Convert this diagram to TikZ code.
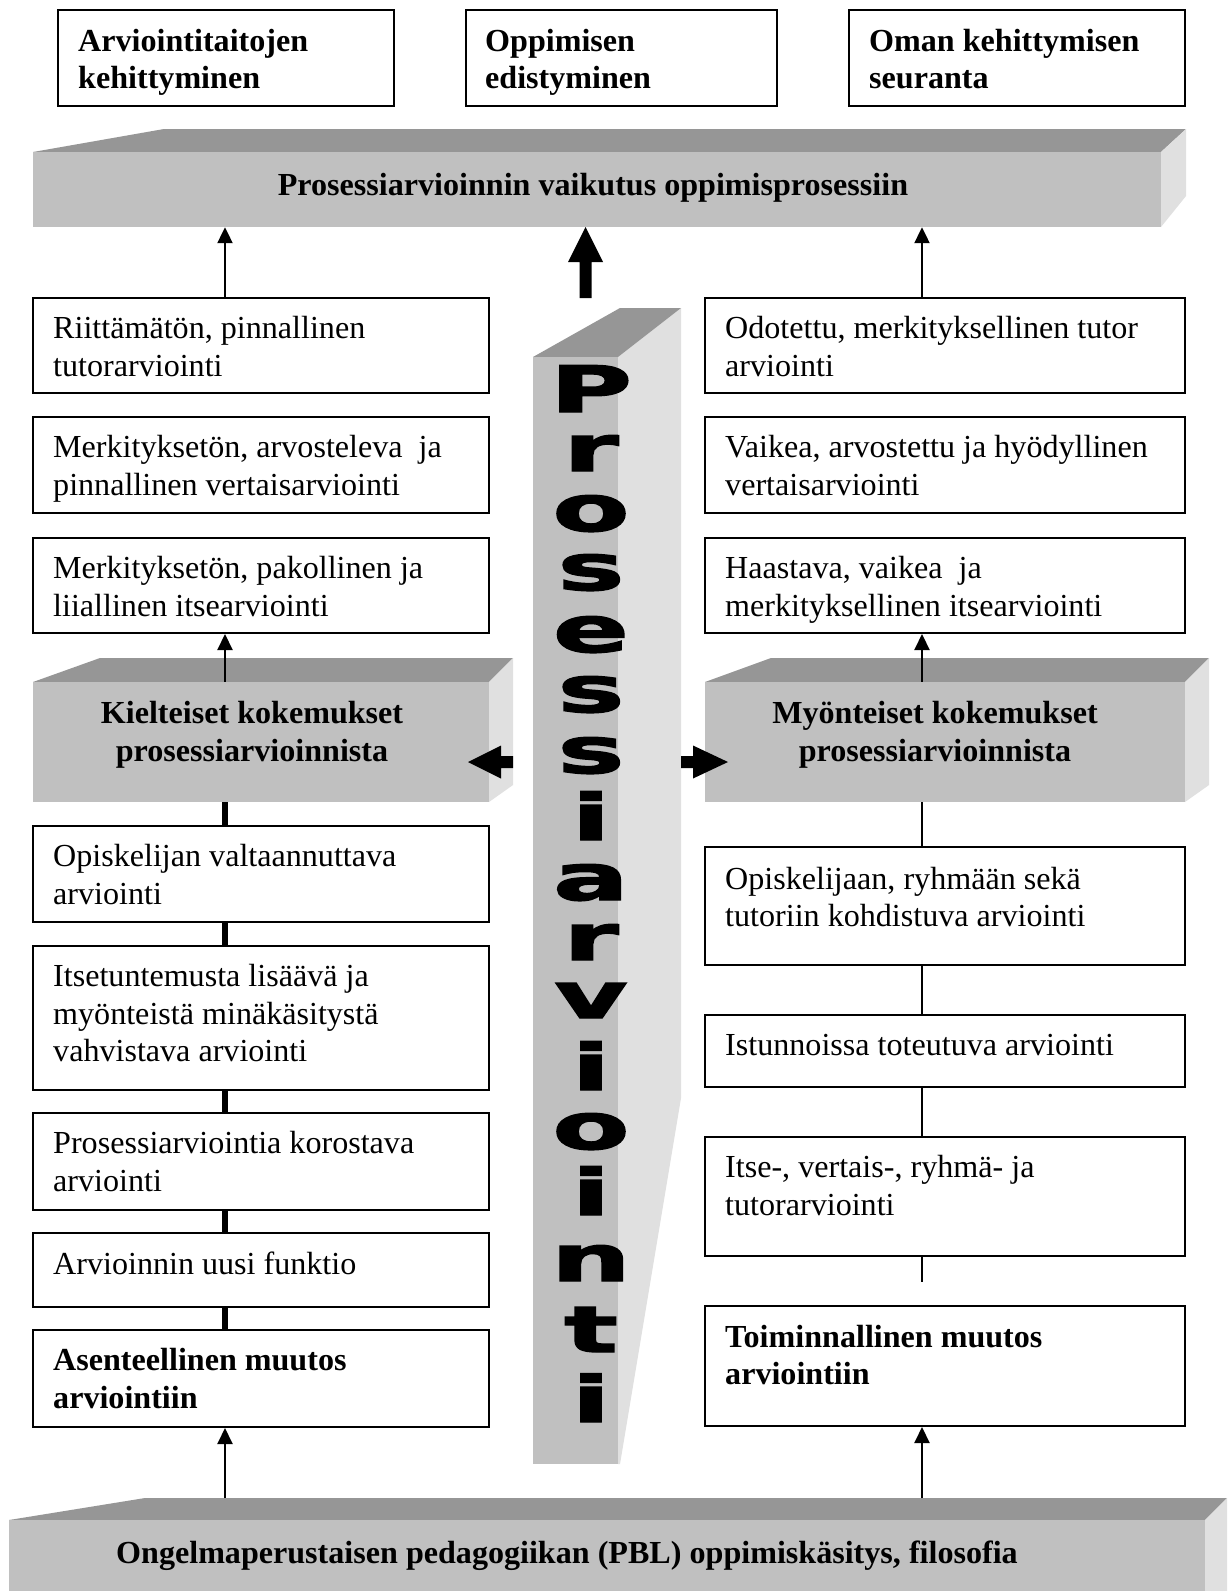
\documentclass[tikz,border=0pt]{standalone}
\usepackage{fontspec}
\setmainfont{Liberation Serif}
\newfontfamily\heavyfont{DejaVu Sans}[FakeBold=2]
\usetikzlibrary{fit,calc,arrows.meta}
\definecolor{frontgray}{HTML}{C0C0C0}
\definecolor{topgray}{HTML}{969696}
\definecolor{sidegray}{HTML}{E0E0E0}
\begin{document}
\begin{tikzpicture}[x=1pt,y=-1pt,
  box/.style={draw=black, line width=2pt, inner sep=0pt, fill=white},
  front/.style={fill=frontgray, inner sep=0pt},
  txt/.style={anchor=base west, inner sep=0pt, font=\fontsize{32.1}{37.5}\selectfont},
  btxt/.style={anchor=base west, inner sep=0pt, font=\bfseries\fontsize{32.1}{37.5}\selectfont},
  ctxt/.style={anchor=center, align=center, inner sep=0pt, font=\bfseries\fontsize{32.1}{38.5}\selectfont},
  letter/.style={anchor=base, inner sep=0pt, font=\heavyfont\bfseries\fontsize{64}{64}\selectfont},
  arr/.style={line width=2.2pt, -{Triangle[length=16pt,width=15pt]}},
  thickc/.style={line width=6.5pt},
  thinc/.style={line width=2.3pt}
]
\useasboundingbox (0,0) rectangle (1227,1591);
\fill[white] (0,0) rectangle (1227,1591);
\coordinate (colL) at (225,0);
\coordinate (colR) at (922,0);
\coordinate (pbltop) at (0,1498);
\coordinate (r6end) at (922,1282);

% top boxes
\node[box, fit={(58,10) (394,106)}] (g1) {};
\node[btxt] (g1t) at ($(g1.north west)+(21,42)$) {\parbox[t]{600pt}{Arviointitaitojen\\kehittyminen}};
\node[box, fit={(466,10) (777,106)}] (g2) {};
\node[btxt] (g2t) at ($(g2.north west)+(20,42)$) {\parbox[t]{600pt}{Oppimisen\\edistyminen}};
\node[box, fit={(849,10) (1185,106)}] (g3) {};
\node[btxt] (g3t) at ($(g3.north west)+(21,42)$) {\parbox[t]{600pt}{Oman kehittymisen\\seuranta}};

% top bar
\fill[topgray] (33,152) -- (1161,152) -- (1186,129) -- (164,129) -- cycle;
\fill[sidegray] (1161,152) -- (1186,129) -- (1186,196) -- (1161,227) -- cycle;
\node[front, fit={(33,152) (1161,227)}] (impact) {};
\node[ctxt] (impactt) at (593,188) {Prosessiarvioinnin vaikutus oppimisprosessiin};

% central bar
\fill[sidegray] (618,357) -- (681,308) -- (681,1098) -- (620,1464) -- (618,1464) -- cycle;
\fill[topgray] (533,357) -- (618,357) -- (681,308) -- (620,308) -- cycle;
\node[front, fit={(533,357) (618,1464)}] (cbar) {};
\foreach \ch/\yy [count=\k] in {P/412, r/471, o/531, s/590, e/652, s/712, s/773, i/840, a/900, r/960, v/1018, i/1090, o/1149, i/1215, n/1281, t/1352, i/1422}
  \node[letter] (c\k) at (591,\yy) {\scalebox{1.75}[1]{\ch}};

% middle block arrow
\fill (579.5,298) -- (579.5,262) -- (568,262) -- (585.5,227) -- (603,262) -- (591.5,262) -- (591.5,298) -- cycle;

% left column
\node[box, fit={(33,298) (489,393)}] (L1) {};
\node[txt] (L1t) at ($(L1.north west)+(21,41.5)$) {\parbox[t]{600pt}{Riittämätön, pinnallinen\\tutorarviointi}};
\node[box, fit={(33,417) (489,513)}] (L2) {};
\node[txt] (L2t) at ($(L2.north west)+(21,41.5)$) {\parbox[t]{600pt}{Merkityksetön, arvosteleva\ \ ja\\pinnallinen vertaisarviointi}};
\node[box, fit={(33,538) (489,633)}] (L3) {};
\node[txt] (L3t) at ($(L3.north west)+(21,41.5)$) {\parbox[t]{600pt}{Merkityksetön, pakollinen ja\\liiallinen itsearviointi}};

\fill[topgray] (33,682) -- (489,682) -- (513,658) -- (100,658) -- cycle;
\fill[sidegray] (489,682) -- (513,658) -- (513,785) -- (489,802) -- cycle;
\node[front, fit={(33,682) (489,802)}] (neg) {};
\node[ctxt] (negt) at (252,735) {Kielteiset kokemukset\\prosessiarvioinnista};

\node[box, fit={(33,826) (489,922)}] (L4) {};
\node[txt] (L4t) at ($(L4.north west)+(21,41.5)$) {\parbox[t]{600pt}{Opiskelijan valtaannuttava\\arviointi}};
\node[box, fit={(33,946) (489,1090)}] (L5) {};
\node[txt] (L5t) at ($(L5.north west)+(21,41.5)$) {\parbox[t]{600pt}{Itsetuntemusta lisäävä ja\\myönteistä minäkäsitystä\\vahvistava arviointi}};
\node[box, fit={(33,1113) (489,1210)}] (L6) {};
\node[txt] (L6t) at ($(L6.north west)+(21,41.5)$) {\parbox[t]{600pt}{Prosessiarviointia korostava\\arviointi}};
\node[box, fit={(33,1233) (489,1307)}] (L7) {};
\node[txt] (L7t) at ($(L7.north west)+(21,42.5)$) {\parbox[t]{600pt}{Arvioinnin uusi funktio}};
\node[box, fit={(33,1330) (489,1427)}] (L8) {};
\node[btxt] (L8t) at ($(L8.north west)+(21,41.5)$) {\parbox[t]{600pt}{Asenteellinen muutos\\arviointiin}};

% right column
\node[box, fit={(705,298) (1185,393)}] (R1) {};
\node[txt] (R1t) at ($(R1.north west)+(21,41.5)$) {\parbox[t]{600pt}{Odotettu, merkityksellinen tutor\\arviointi}};
\node[box, fit={(705,417) (1185,513)}] (R2) {};
\node[txt] (R2t) at ($(R2.north west)+(21,41.5)$) {\parbox[t]{600pt}{Vaikea, arvostettu ja hyödyllinen\\vertaisarviointi}};
\node[box, fit={(705,538) (1185,633)}] (R3) {};
\node[txt] (R3t) at ($(R3.north west)+(21,41.5)$) {\parbox[t]{600pt}{Haastava, vaikea\ \ ja\\merkityksellinen itsearviointi}};

\fill[topgray] (705,682) -- (1185,682) -- (1209,658) -- (771,658) -- cycle;
\fill[sidegray] (1185,682) -- (1209,658) -- (1209,785) -- (1185,802) -- cycle;
\node[front, fit={(705,682) (1185,802)}] (pos) {};
\node[ctxt] (post) at (935,735) {Myönteiset kokemukset\\prosessiarvioinnista};

\node[box, fit={(705,847) (1185,965)}] (R4) {};
\node[txt] (R4t) at ($(R4.north west)+(21,43)$) {\parbox[t]{600pt}{Opiskelijaan, ryhmään sekä\\tutoriin kohdistuva arviointi}};
\node[box, fit={(705,1015) (1185,1087)}] (R5) {};
\node[txt] (R5t) at ($(R5.north west)+(21,41.5)$) {\parbox[t]{600pt}{Istunnoissa toteutuva arviointi}};
\node[box, fit={(705,1137) (1185,1256)}] (R6) {};
\node[txt] (R6t) at ($(R6.north west)+(21,41.5)$) {\parbox[t]{600pt}{Itse-, vertais-, ryhmä- ja\\tutorarviointi}};
\node[box, fit={(705,1306) (1185,1426)}] (R7) {};
\node[btxt] (R7t) at ($(R7.north west)+(21,42)$) {\parbox[t]{600pt}{Toiminnallinen muutos\\arviointiin}};

% side block arrows
\fill (513,756) -- (501,756) -- (501,745.5) -- (468,762) -- (501,778.5) -- (501,768) -- (513,768) -- cycle;
\fill (681,756) -- (693,756) -- (693,745.5) -- (728,762) -- (693,778.5) -- (693,768) -- (681,768) -- cycle;

% bottom bar
\fill[topgray] (9,1520) -- (1205,1520) -- (1227,1498) -- (145,1498) -- cycle;
\fill[sidegray] (1205,1520) -- (1227,1498) -- (1227,1591) -- (1205,1591) -- cycle;
\node[front, fit={(9,1520) (1205,1591)}] (pbl) {};
\node[ctxt] (pblt) at (567,1556) {Ongelmaperustaisen pedagogiikan (PBL) oppimiskäsitys, filosofia};

% connectors
\draw[arr] (L1.north -| colL) -- (impact.south -| colL);
\draw[arr] (R1.north -| colR) -- (impact.south -| colR);
\draw[arr] (neg.north -| colL) -- (L3.south -| colL);
\draw[arr] (pos.north -| colR) -- (R3.south -| colR);
\draw[thickc] (neg.south -| colL) -- (L4.north -| colL);
\draw[thickc] (L4.south -| colL) -- (L5.north -| colL);
\draw[thickc] (L5.south -| colL) -- (L6.north -| colL);
\draw[thickc] (L6.south -| colL) -- (L7.north -| colL);
\draw[thickc] (L7.south -| colL) -- (L8.north -| colL);
\draw[thinc] (pos.south -| colR) -- (R4.north -| colR);
\draw[thinc] (R4.south -| colR) -- (R5.north -| colR);
\draw[thinc] (R5.south -| colR) -- (R6.north -| colR);
\draw[thinc] (R6.south -| colR) -- (r6end);
\draw[arr] (pbltop -| colL) -- (L8.south -| colL);
\draw[arr] (pbltop -| colR) -- (R7.south -| colR);
\end{tikzpicture}
\end{document}
